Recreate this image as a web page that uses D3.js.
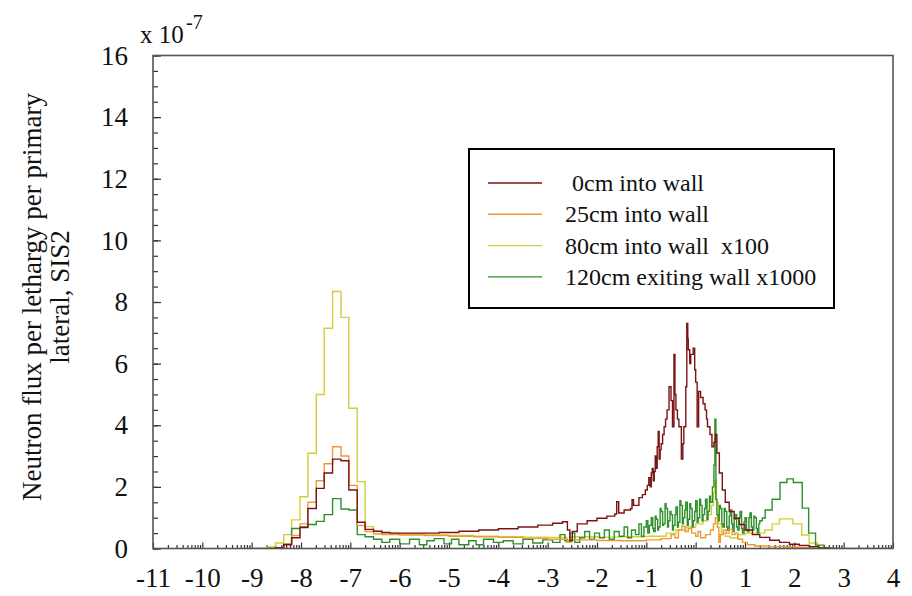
<!DOCTYPE html>
<html>
<head>
<meta charset="utf-8">
<script src="https://cdn.jsdelivr.net/npm/d3@7"></script>
<style>
  html, body { margin: 0; padding: 0; background: #fff; }
  svg { display: block; font-family: "Liberation Serif", "Times New Roman", serif; }
</style>
</head>
<body>
<svg id="chart" width="912" height="596"></svg>
<script>
/* global d3 */
'use strict';

// x is log10(E), pairs are [left bin edge, flux x 1e-7]
var flux0cm = [
  [-8.69, 0], [-8.52, 0.03], [-8.35, 0.12], [-8.19, 0.35], [-8.02, 0.68], [-7.86, 1.3],
  [-7.69, 1.95], [-7.53, 2.45], [-7.36, 2.9], [-7.19, 2.85], [-7.03, 1.9], [-6.86, 0.85],
  [-6.70, 0.62], [-6.53, 0.56], [-6.36, 0.52], [-6.2, 0.5], [-5.6, 0.5], [-5.2, 0.52],
  [-4.8, 0.56], [-4.4, 0.6], [-4.0, 0.64], [-3.6, 0.7], [-3.2, 0.76], [-2.9, 0.82],
  [-2.7, 0.87], [-2.6, 0.6], [-2.55, 0.25], [-2.5, 0.55], [-2.4, 0.8], [-2.2, 0.9],
  [-2.0, 0.98], [-1.8, 1.05], [-1.64, 1.12], [-1.6, 1.52], [-1.56, 1.15], [-1.45, 1.25],
  [-1.32, 1.3], [-1.29, 1.58], [-1.26, 1.4], [-1.15, 1.65], [-1.08, 1.75], [-1.02, 1.9],
  [-0.98, 2.05], [-0.95, 2.3], [-0.92, 2.0], [-0.9, 2.45], [-0.88, 2.6], [-0.86, 2.2],
  [-0.84, 2.5], [-0.82, 3.0], [-0.8, 2.6], [-0.78, 3.3], [-0.76, 3.8], [-0.74, 2.9],
  [-0.72, 3.2], [-0.7, 3.4], [-0.67, 3.7], [-0.64, 3.95], [-0.61, 4.2], [-0.58, 4.5],
  [-0.54, 5.25], [-0.5, 4.8], [-0.47, 3.95], [-0.44, 6.3], [-0.42, 5.0], [-0.4, 4.5],
  [-0.37, 4.2], [-0.34, 3.95], [-0.29, 2.9], [-0.26, 3.4], [-0.24, 3.95], [-0.2, 5.25],
  [-0.18, 7.3], [-0.16, 6.8], [-0.15, 6.45], [-0.12, 6.0], [-0.1, 6.3], [-0.05, 6.5],
  [-0.02, 5.8], [0.0, 5.4], [0.03, 3.95], [0.06, 5.1], [0.1, 4.9], [0.15, 4.7],
  [0.19, 4.5], [0.22, 4.2], [0.24, 3.95], [0.29, 3.7], [0.33, 3.3], [0.37, 3.45],
  [0.4, 3.7], [0.43, 3.1], [0.48, 2.45], [0.54, 1.9], [0.6, 1.5], [0.68, 1.2],
  [0.78, 0.98], [0.88, 0.78], [1.0, 0.6], [1.15, 0.45], [1.3, 0.36], [1.5, 0.27],
  [1.7, 0.2], [1.9, 0.14], [2.1, 0.1], [2.3, 0.06], [2.5, 0.02], [2.7, 0]
];

var flux25cm = [
  [-8.69, 0], [-8.52, 0.03], [-8.35, 0.15], [-8.19, 0.42], [-8.02, 0.8], [-7.86, 1.5],
  [-7.69, 2.2], [-7.53, 2.75], [-7.36, 3.3], [-7.19, 3.0], [-7.03, 2.05], [-6.86, 0.75],
  [-6.70, 0.55], [-6.53, 0.47], [-6.36, 0.45], [-6.0, 0.44], [-5.5, 0.42], [-5.0, 0.4],
  [-4.5, 0.38], [-4.0, 0.36], [-3.5, 0.33], [-3.0, 0.3], [-2.6, 0.25], [-2.5, 0.28],
  [-2.0, 0.26], [-1.5, 0.25], [-1.0, 0.28], [-0.7, 0.32], [-0.5, 0.45], [-0.42, 0.35],
  [-0.35, 0.6], [-0.28, 0.72], [-0.22, 0.55], [-0.15, 0.65], [-0.08, 0.5], [0.0, 0.4],
  [0.05, 0.55], [0.1, 0.35], [0.2, 0.45], [0.3, 0.6], [0.36, 0.8], [0.4, 1.0],
  [0.44, 0.7], [0.47, 0.2], [0.5, 0.45], [0.56, 0.6], [0.62, 0.5], [0.68, 0.62],
  [0.74, 0.45], [0.8, 0.5], [0.86, 0.3], [0.95, 0.2], [1.05, 0.12], [1.2, 0.08],
  [1.5, 0.06], [1.8, 0.05], [2.1, 0.04], [2.4, 0.02], [2.6, 0]
];

var flux80cm = [
  [-8.85, 0], [-8.69, 0.05], [-8.52, 0.18], [-8.35, 0.45], [-8.19, 0.93], [-8.02, 1.68],
  [-7.86, 3.09], [-7.69, 5.0], [-7.53, 7.15], [-7.36, 8.34], [-7.19, 7.5], [-7.03, 4.55],
  [-6.86, 2.17], [-6.70, 0.71], [-6.53, 0.55], [-6.36, 0.5], [-6.0, 0.47], [-5.5, 0.44],
  [-5.0, 0.42], [-4.5, 0.4], [-4.0, 0.38], [-3.5, 0.37], [-3.0, 0.36], [-2.62, 0.2],
  [-2.52, 0.38], [-2.0, 0.37], [-1.5, 0.38], [-1.0, 0.4], [-0.6, 0.5], [-0.4, 0.6],
  [-0.2, 0.7], [0.0, 0.8], [0.15, 0.9], [0.25, 1.1], [0.32, 1.4], [0.36, 1.8],
  [0.39, 2.2], [0.42, 1.5], [0.46, 0.8], [0.52, 0.5], [0.6, 0.4], [0.7, 0.35],
  [0.85, 0.45], [1.0, 0.5], [1.2, 0.5], [1.4, 0.6], [1.55, 0.8], [1.7, 0.96],
  [1.97, 0.8], [2.15, 0.44], [2.3, 0.18], [2.47, 0.03], [2.65, 0]
];

var flux120cm = [
  [-9.1, 0], [-8.52, 0.03], [-8.35, 0.15], [-8.19, 0.65], [-8.02, 0.7], [-7.86, 0.78],
  [-7.69, 0.88], [-7.53, 1.1], [-7.36, 1.62], [-7.19, 1.28], [-7.03, 1.25], [-6.86, 0.45],
  [-6.70, 0.38], [-6.53, 0.3], [-6.36, 0.2], [-6.2, 0.3], [-6.0, 0.15], [-5.8, 0.3],
  [-5.6, 0.12], [-5.45, 0.25], [-5.3, 0.32], [-5.1, 0.15], [-4.95, 0.3], [-4.8, 0.12],
  [-4.6, 0.25], [-4.45, 0.12], [-4.3, 0.3], [-4.1, 0.2], [-3.9, 0.25], [-3.7, 0.15],
  [-3.5, 0.3], [-3.3, 0.18], [-3.1, 0.28], [-2.9, 0.2], [-2.75, 0.45], [-2.65, 0.25],
  [-2.55, 0.5], [-2.45, 0.2], [-2.35, 0.35], [-2.25, 0.55], [-2.15, 0.3], [-2.05, 0.5],
  [-1.95, 0.35], [-1.85, 0.6], [-1.75, 0.3], [-1.65, 0.55], [-1.55, 0.4], [-1.45, 0.7],
  [-1.38, 0.35], [-1.3, 0.6], [-1.22, 0.45], [-1.15, 0.8], [-1.1, 0.4], [-1.05, 0.7],
  [-1.0, 0.9], [-0.97, 0.5], [-0.94, 0.75], [-0.9, 1.0], [-0.87, 0.65], [-0.85, 0.55],
  [-0.82, 1.05], [-0.8, 0.95], [-0.77, 0.6], [-0.75, 0.7], [-0.72, 1.3], [-0.7, 1.2],
  [-0.67, 0.75], [-0.65, 0.8], [-0.62, 1.45], [-0.6, 1.3], [-0.57, 0.7], [-0.55, 0.9],
  [-0.52, 1.2], [-0.5, 1.1], [-0.47, 0.6], [-0.45, 0.75], [-0.42, 1.1], [-0.4, 1.35],
  [-0.37, 0.7], [-0.35, 0.85], [-0.32, 1.55], [-0.3, 1.4], [-0.27, 0.8], [-0.25, 1.0],
  [-0.22, 1.25], [-0.2, 1.5], [-0.17, 0.75], [-0.15, 0.95], [-0.12, 1.45], [-0.1, 1.3],
  [-0.07, 0.7], [-0.05, 0.9], [-0.02, 1.2], [0.0, 1.55], [0.03, 0.85], [0.05, 1.0],
  [0.08, 1.6], [0.1, 1.4], [0.13, 0.9], [0.15, 1.1], [0.18, 1.3], [0.2, 1.6],
  [0.23, 0.95], [0.25, 1.2], [0.28, 1.7], [0.3, 1.5], [0.34, 2.0], [0.37, 2.7],
  [0.39, 4.2], [0.41, 1.6], [0.43, 1.1], [0.45, 0.9], [0.48, 1.4], [0.5, 1.3],
  [0.53, 0.8], [0.55, 0.7], [0.58, 1.3], [0.6, 1.2], [0.63, 0.7], [0.65, 0.6],
  [0.68, 1.05], [0.7, 1.25], [0.73, 0.8], [0.75, 0.55], [0.78, 0.95], [0.8, 1.1],
  [0.83, 0.7], [0.85, 0.6], [0.88, 1.0], [0.9, 1.2], [0.93, 0.65], [0.95, 0.5],
  [0.98, 0.85], [1.0, 1.0], [1.03, 0.6], [1.05, 0.55], [1.08, 1.0], [1.1, 1.15],
  [1.13, 0.7], [1.15, 0.6], [1.18, 1.05], [1.2, 1.0], [1.23, 0.65], [1.25, 0.5],
  [1.28, 0.8], [1.3, 0.9], [1.35, 0.99], [1.41, 1.25], [1.55, 1.6], [1.71, 2.14],
  [1.85, 2.26], [1.98, 2.14], [2.16, 1.31], [2.29, 0.5], [2.43, 0.11], [2.6, 0.02],
  [2.8, 0], [4, 0]
];

var seriesNames = ['0cm into wall', '25cm into wall', '80cm into wall  x100', '120cm exiting wall x1000'];
var seriesColors = ['#7a1414', '#ee9a32', '#d2cf3a', '#2f8f2a'];
var seriesData = [flux0cm, flux25cm, flux80cm, flux120cm];
var drawOrder = [2, 3, 1, 0];

var xTicks = d3.range(-11, 5);
var yTicks = d3.range(0, 17, 2);
var yMinorTicks = d3.range(0, 16.01, 0.5);

var X0 = 153, X1 = 893, Y0 = 55.5, Y1 = 548.5;
var SERIF = '"Liberation Serif", "Times New Roman", serif';

var svg = d3.select('#chart');
var x = d3.scaleLinear().domain([-11, 4]).range([X0, X1]);
var y = d3.scaleLinear().domain([0, 16]).range([Y1, Y0]);

svg.append('defs').append('clipPath').attr('id', 'plotClip')
  .append('rect').attr('x', X0).attr('y', Y0).attr('width', X1 - X0).attr('height', Y1 - Y0);

// log-style minor ticks inside each decade
var xMinorTicks = [];
xTicks.slice(0, -1).forEach(function (d) {
  for (var k = 2; k <= 9; k++) xMinorTicks.push(d + Math.log10(k));
});

// plain hyphen for negatives, like the original
function plainInt(d) { return String(d); }

function styleAxis(g) {
  g.select('.domain').remove();
  g.attr('font-family', SERIF);
  g.selectAll('.tick line').attr('stroke', '#333').attr('stroke-width', 1.2);
  g.selectAll('.tick text').attr('fill', '#111').style('font-size', '27px')
    .style('font-family', SERIF);
}

svg.append('g').attr('transform', 'translate(0,' + Y1 + ')')
  .call(d3.axisBottom(x).tickValues(xMinorTicks).tickSize(-3.5).tickFormat(''))
  .call(styleAxis);
svg.append('g').attr('transform', 'translate(0,' + Y1 + ')')
  .call(d3.axisBottom(x).tickValues(xTicks).tickSize(-6).tickPadding(19).tickFormat(plainInt))
  .call(styleAxis);

svg.append('g').attr('transform', 'translate(' + X0 + ',0)')
  .call(d3.axisLeft(y).tickValues(yMinorTicks).tickSize(-5).tickFormat(''))
  .call(styleAxis);
svg.append('g').attr('transform', 'translate(' + X0 + ',0)')
  .call(d3.axisLeft(y).tickValues(yTicks).tickSize(-8).tickPadding(25).tickFormat(plainInt))
  .call(styleAxis);

// series, drawn as step histograms
var line = d3.line()
  .x(function (d) { return x(d[0]); })
  .y(function (d) { return y(d[1]); })
  .curve(d3.curveStepAfter);

var plot = svg.append('g').attr('clip-path', 'url(#plotClip)');
drawOrder.forEach(function (i) {
  plot.append('path')
    .datum(seriesData[i])
    .attr('d', line)
    .attr('fill', 'none')
    .attr('stroke', seriesColors[i])
    .attr('stroke-width', 1.4);
});

// frame
svg.append('rect')
  .attr('x', X0).attr('y', Y0).attr('width', X1 - X0).attr('height', Y1 - Y0)
  .attr('fill', 'none').attr('stroke', '#555').attr('stroke-width', 1.6);

// y title and exponent
var title = svg.append('text')
  .attr('transform', 'translate(33,297) rotate(-90)')
  .attr('text-anchor', 'middle')
  .style('font-size', '27px').attr('fill', '#111');
title.append('tspan').attr('x', 0).attr('dy', '0.3em').text('Neutron flux per lethargy per primary');
title.append('tspan').attr('x', 0).attr('dy', '1.05em').text('lateral, SIS2');

svg.append('text').attr('x', 140).attr('y', 43)
  .style('font-size', '25px').attr('fill', '#111').text('x 10');
svg.append('text').attr('x', 186).attr('y', 29)
  .style('font-size', '20px').attr('fill', '#111').text('-7');

// legend
var legend = svg.append('g');
legend.append('rect')
  .attr('x', 469).attr('y', 149).attr('width', 365).attr('height', 159)
  .attr('fill', '#fff').attr('stroke', '#000').attr('stroke-width', 2);

var rows = legend.selectAll('g.row').data(d3.range(seriesNames.length)).enter()
  .append('g').attr('class', 'row')
  .attr('transform', function (i) { return 'translate(0,' + (183 + i * 31.3) + ')'; });
rows.append('line')
  .attr('x1', 488).attr('x2', 542).attr('y1', 0).attr('y2', 0)
  .attr('stroke', function (i) { return seriesColors[i]; }).attr('stroke-width', 1.4);
rows.append('text')
  .attr('x', function (i) { return i === 0 ? 572 : 565; })
  .attr('y', 0).attr('dy', '0.33em')
  .style('font-size', '24px').style('white-space', 'pre').attr('fill', '#111')
  .text(function (i) { return seriesNames[i]; });
</script>
</body>
</html>
